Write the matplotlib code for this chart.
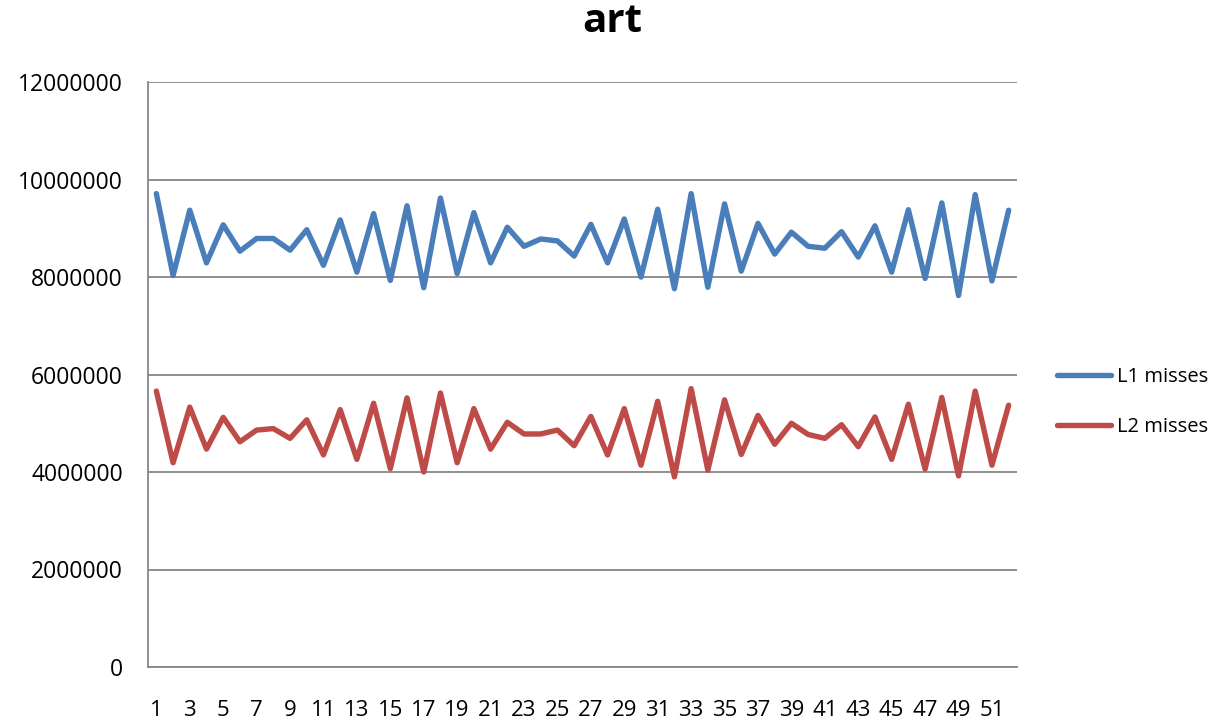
import numpy as np
import matplotlib
matplotlib.use("Agg")
import matplotlib.pyplot as plt

plt.rcParams['font.family'] = ['Open Sans', 'DejaVu Sans']

runs = np.arange(1, 53)

l1_misses = [9710000, 8030000, 9370000, 8290000, 9070000, 8530000, 8790000, 8790000,
             8550000, 8970000, 8240000, 9170000, 8100000, 9300000, 7930000, 9460000,
             7780000, 9620000, 8070000, 9320000, 8290000, 9020000, 8630000, 8780000,
             8740000, 8430000, 9080000, 8290000, 9190000, 8000000, 9390000, 7760000,
             9710000, 7790000, 9500000, 8120000, 9100000, 8470000, 8920000, 8630000,
             8590000, 8930000, 8410000, 9050000, 8100000, 9380000, 7970000, 9520000,
             7620000, 9690000, 7920000, 9370000]

l2_misses = [5660000, 4190000, 5330000, 4470000, 5120000, 4620000, 4860000, 4890000,
             4690000, 5070000, 4350000, 5280000, 4260000, 5410000, 4070000, 5520000,
             4000000, 5620000, 4190000, 5300000, 4470000, 5020000, 4780000, 4780000,
             4860000, 4540000, 5140000, 4350000, 5300000, 4140000, 5450000, 3900000,
             5710000, 4040000, 5480000, 4360000, 5160000, 4570000, 5000000, 4770000,
             4690000, 4970000, 4520000, 5130000, 4260000, 5390000, 4060000, 5530000,
             3920000, 5660000, 4140000, 5370000]

fig = plt.figure(figsize=(12.24, 7.25), dpi=100)
ax = fig.add_axes([148/1224, 1 - 667/725, (1017-148)/1224, (667-82)/725])

ax.plot(runs, l1_misses, color='#4A7EBB', linewidth=3.9, label='L1 misses',
        solid_joinstyle='round', solid_capstyle='round')
ax.plot(runs, l2_misses, color='#BE4B48', linewidth=3.9, label='L2 misses',
        solid_joinstyle='round', solid_capstyle='round')

ax.set_xlim(0.5, 52.5)
ax.set_ylim(0, 12000000)
ax.set_yticks(np.arange(0, 12000001, 2000000))
ax.set_yticklabels([str(v) for v in range(0, 12000001, 2000000)])
ax.set_xticks(runs[::2])
ax.set_xticklabels([str(r) for r in runs[::2]])
ax.yaxis.grid(True, color='#868686', linewidth=1.3)
ax.set_axisbelow(True)
for s in ['top', 'right']:
    ax.spines[s].set_visible(False)
for s in ['left', 'bottom']:
    ax.spines[s].set_color('#868686')
    ax.spines[s].set_linewidth(1.3)
ax.tick_params(axis='y', length=0, pad=18, labelsize=16.5)
ax.tick_params(axis='x', length=0, pad=24, labelsize=16)

fig.suptitle('art', x=0.5, y=1 - 22/725, va='center', fontsize=29, fontweight='bold')

fig.legend(loc='center left', bbox_to_anchor=(1057/1224, 1 - 402/725), frameon=False,
           fontsize=14.5, handlelength=2.69, handletextpad=0.3, borderpad=0,
           borderaxespad=0, labelspacing=1.45)

fig.savefig('out.png', dpi=100)
